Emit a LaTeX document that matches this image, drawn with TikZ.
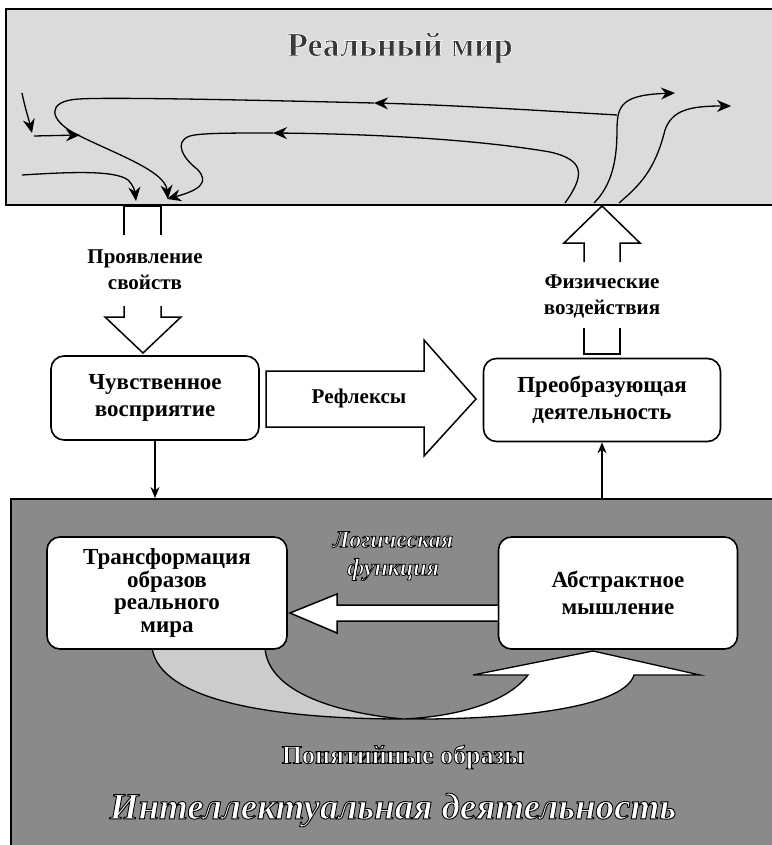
\documentclass[tikz,border=0pt]{standalone}
\usepackage{fontspec}
\setmainfont{Liberation Serif}
\usetikzlibrary{arrows.meta}
% outlined text: stroke width, stroke gray level, text
\newcommand{\outlined}[3]{\special{pdf:literal direct 2 Tr #1 w #2 G}#3\special{pdf:literal direct 0 Tr 0 G}}

\begin{document}
\begin{tikzpicture}[x=1pt, y=-1pt,
    every node/.style={font=\fontsize{21}{26}\selectfont\bfseries},
    band/.style={rectangle, draw, line width=2pt, inner sep=0pt, anchor=north west},
    box/.style={rectangle, rounded corners=13pt, draw, line width=1.6pt, fill=white, align=center, inner sep=2pt,
        font=\fontsize{23}{27}\selectfont\bfseries},
    lbl/.style={align=center, inner sep=1pt},
    hollow/.style={draw, line width=1.5pt, fill=white, line join=miter},
    link/.style={line width=1.2pt, -{Stealth[length=11pt, width=9pt]}},
    flow/.style={line width=1.3pt, -{Stealth[length=14pt, width=12pt]}},
    plain/.style={line width=1.3pt},
    glow/.style={text=white, align=center}
]
\useasboundingbox (0,0) rectangle (771,845);

% Bands
\node[band, fill=black!14, minimum width=772pt, minimum height=196pt] (realworld) at (5,8) {};
\node[band, fill=black!46, minimum width=768pt, minimum height=352pt] (intel) at (10,498) {};

% Title of the upper band
\node[text=black!78] (rwtitle) at (400,48) {\fontsize{34}{40}\selectfont\outlined{0.7}{1}{Реальный мир}};

% Curves in the real world
\draw[flow] (22,93) .. controls (25,108) and (29,120) .. (32,133);
\draw[flow] (34,136) -- (80,135);
\draw[flow] (617,115) .. controls (530,110) and (450,105) .. (374,103);
\draw[flow] (374,103) .. controls (250,100) and (110,97) .. (79,99)
    .. controls (45,101) and (50,120) .. (74,133)
    .. controls (110,152) and (165,170) .. (168,199);
\draw[flow] (594,203) .. controls (612,185) and (617,160) .. (617,130)
    .. controls (617,105) and (622,95) .. (675,93);
\draw[flow] (619,203) .. controls (640,185) and (655,170) .. (665,130)
    .. controls (672,110) and (690,106) .. (731,106);
\draw[flow] (565,203) .. controls (585,175) and (585,160) .. (550,152)
    .. controls (480,140) and (380,134) .. (273,133);
\draw[flow] (273,133) .. controls (230,133) and (200,133) .. (190,136)
    .. controls (172,142) and (185,160) .. (197,169)
    .. controls (210,182) and (200,190) .. (167,199);
\draw[flow] (22,175) .. controls (70,172) and (115,170) .. (128,180)
    .. controls (134,186) and (135,192) .. (136,201);

% Hollow arrow: manifestation of properties
\draw[hollow] (124,235) -- (124,206) -- (161,206) -- (161,235);
\node[lbl] (manif) at (145,270) {Проявление\\свойств};
\draw[hollow] (124,306) -- (124,317) -- (105,317) -- (143,353) -- (181,317) -- (161,317) -- (161,306);

% Hollow arrow: physical actions
\draw[hollow] (584,262) -- (584,243) -- (564,243) -- (602,206) -- (640,243) -- (620,243) -- (620,262);
\node[lbl] (phys) at (602,296) {Физические\\воздействия};
\draw[hollow] (584,328) -- (584,354) -- (620,354) -- (620,328);

% Middle boxes
\node[box, minimum width=208pt, minimum height=84pt] (sense) at (155,398) {Чувственное\\восприятие};
\node[box, minimum width=237pt, minimum height=83pt] (xform) at (602,400) {Преобразующая\\деятельность};
\draw[hollow] (266,371) -- (424,371) -- (424,340) -- (476,399) -- (424,456) -- (424,427) -- (266,427) -- cycle;
\node[lbl] (reflex) at (359,398) {Рефлексы};

\draw[link] (sense.south) -- (sense.south |- intel.north);
\draw[link] (xform.south |- intel.north) -- (xform.south);

% U-turn arrow of notional images
\draw[plain, fill=black!20] (152,648) .. controls (160,700) and (270,719) .. (403,719)
    .. controls (330,712) and (268,690) .. (265,648) -- cycle;
\draw[plain, fill=white] (403,719) .. controls (530,720) and (625,705) .. (634,675)
    -- (700,675) -- (593,651) -- (473,675) -- (528,675)
    .. controls (505,705) and (450,717) .. (403,719) -- cycle;

% Lower boxes
\node[box, minimum width=240pt, minimum height=112pt, font=\fontsize{23}{22.5}\selectfont\bfseries] (trans) at (167,593) {Трансформация\\образов\\реального\\мира};
\node[box, minimum width=239pt, minimum height=112pt] (abstr) at (618,593) {Абстрактное\\мышление};
\draw[hollow] (abstr.west |- 0,605) -- (337,605) -- (337,594) -- (290,613) -- (337,633) -- (337,621) -- (abstr.west |- 0,621);

% Texts of the lower band
\node[glow, font=\fontsize{24}{28}\selectfont\bfseries\itshape] (logic) at (393,556) {\outlined{0.75}{0}{Логическая}\\\outlined{0.75}{0}{функция}};
\node[glow, font=\fontsize{26}{30}\selectfont\bfseries] (notion) at (403,757) {\outlined{0.8}{0}{Понятийные образы}};
\node[glow, font=\fontsize{37}{44}\selectfont\bfseries\itshape] (inteltitle) at (393,810) {\outlined{0.9}{0}{Интеллектуальная деятельность}};
\end{tikzpicture}
\end{document}
